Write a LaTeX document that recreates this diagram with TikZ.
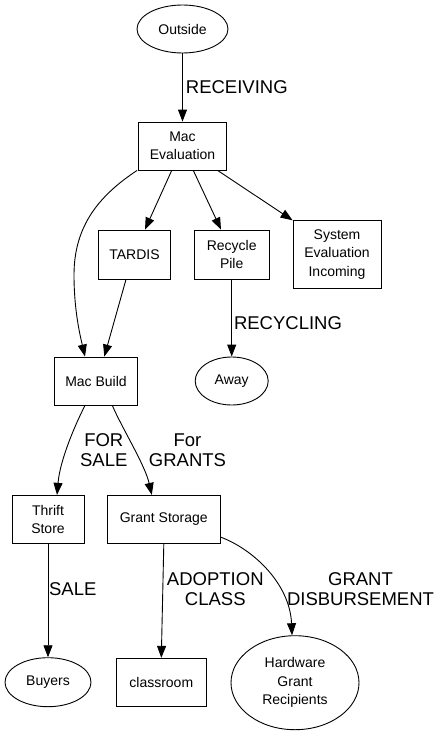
\documentclass[tikz,border=0pt]{standalone}
\usepackage{fontspec}
\setmainfont{Liberation Sans}
\usetikzlibrary{shapes.geometric,arrows.meta}
\begin{document}
\begin{tikzpicture}[x=1pt,y=-1pt,
  box/.style={draw,line width=0.9pt,inner sep=0pt,align=center,font=\fontsize{14}{18.5}\selectfont},
  ell/.style={draw,ellipse,line width=0.9pt,inner sep=0pt,align=center,font=\fontsize{14}{18.5}\selectfont},
  lbl/.style={inner sep=0pt,align=center,font=\fontsize{18.5}{20}\selectfont},
  arr/.style={line width=0.9pt,-{Triangle[length=12pt,width=9pt]}}]
\useasboundingbox[fill=white] (0,0) rectangle (441,736);
% nodes
\node[ell,minimum width=91pt,minimum height=48pt] (out) at (182.5,29) {Outside};
\node[box,minimum width=88pt,minimum height=48pt] (meval) at (182.5,146) {Mac\\Evaluation};
\node[box,minimum width=72pt,minimum height=49pt] (tardis) at (134.5,254.5) {TARDIS};
\node[box,minimum width=75pt,minimum height=49pt] (recyc) at (231.7,254.5) {Recycle\\Pile};
\node[box,minimum width=88pt,minimum height=67.5pt] (syseval) at (337,254.5) {System\\Evaluation\\Incoming};
\node[box,minimum width=83pt,minimum height=48pt] (mbuild) at (96,381) {Mac Build};
\node[ell,minimum width=73pt,minimum height=48pt] (away) at (231.7,381) {Away};
\node[box,minimum width=72pt,minimum height=48.4pt] (thrift) at (48,519.5) {Thrift\\Store};
\node[box,minimum width=112.3pt,minimum height=48.4pt] (gstor) at (163.8,519.5) {Grant Storage};
\node[ell,minimum width=86pt,minimum height=49pt] (buyers) at (48,682.2) {Buyers};
\node[box,minimum width=90.7pt,minimum height=48.4pt] (classrm) at (161.3,682.5) {classroom};
\node[ell,minimum width=128pt,minimum height=94pt] (hw) at (295,682.7) {Hardware\\Grant\\Recipients};
% labels
\node[lbl] (lrec) at (236.8,87.5) {RECEIVING};
\node[lbl] (lrecyc) at (288,322.7) {RECYCLING};
\node[lbl] (lforsale) at (103.8,450) {FOR\\SALE};
\node[lbl] (lgrants) at (187.5,450) {For\\GRANTS};
\node[lbl] (lsale) at (72.8,588.7) {SALE};
\node[lbl] (ladopt) at (215.3,589) {ADOPTION\\CLASS};
\node[lbl] (lgrant) at (360.5,589) {GRANT\\DISBURSEMENT};
% edges
\draw[arr] (out) -- (meval);
\draw[arr] ([xshift=-10.8pt]meval.south) -- ([xshift=10.5pt]tardis.north);
\draw[arr] ([xshift=10.8pt]meval.south) -- ([xshift=-10.7pt]recyc.north);
\draw[arr] ([xshift=35.2pt]meval.south) -- (syseval.north west);
\draw[arr] ([xshift=-1pt]meval.south west) .. controls (100,195) and (74,225) .. (74,275)
   .. controls (74,310) and (80,335) .. ([xshift=-11pt]mbuild.north);
\draw[arr] ([xshift=-8.5pt]tardis.south) -- ([xshift=8.3pt]mbuild.north);
\draw[arr] (recyc) -- (away);
\draw[arr] ([xshift=-11pt]mbuild.south) .. controls (75,425) and (60,460) .. ([xshift=9pt]thrift.north);
\draw[arr] ([xshift=16.3pt]mbuild.south) .. controls (122,428) and (145,465) .. ([xshift=-12pt]gstor.north);
\draw[arr] (thrift) -- (buyers);
\draw[arr] (gstor.south) -- (classrm.north);
\draw[arr] ([yshift=-17.5pt]gstor.east) .. controls (255,550) and (290,585) .. ([xshift=-3pt]hw.north);
\end{tikzpicture}
\end{document}
